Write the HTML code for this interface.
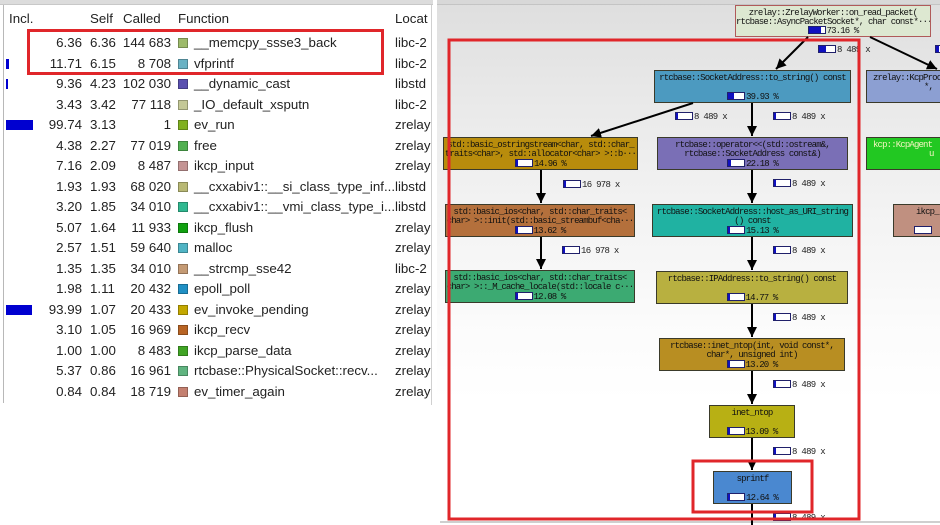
<!DOCTYPE html>
<html><head><meta charset="utf-8">
<style>
*{margin:0;padding:0;box-sizing:border-box}
body{width:940px;height:525px;overflow:hidden;background:#fff;position:relative;font-family:"Liberation Sans",sans-serif}
#left{position:absolute;left:0;top:0;width:433px;height:405px;background:#fff;overflow:hidden}
#left .topbar{position:absolute;left:0;top:0;width:433px;height:5px;background:#dcdcdc;border-bottom:1px solid #c8c8c8}
#left .lb{position:absolute;left:3px;top:5px;width:1px;height:398px;background:#b8b8b8}
#left .rb{position:absolute;left:431px;top:5px;width:1px;height:400px;background:#d0d0d0}
.r{position:absolute;left:0;width:433px;height:20px;line-height:20px;font-size:13.3px;color:#222;white-space:nowrap}
.r span{position:absolute;top:0}
.inc{right:351px;text-align:right}
.slf{left:90px}
.cal{right:262px;text-align:right}
.sq{left:178px;top:5px!important;width:10px;height:10px;border:1px solid rgba(0,0,0,.25)}
.fn{left:194px}
.loc{left:395px}
.ib{left:6px;top:5px!important;height:10px;background:#0000d0}
#right{position:absolute;left:437px;top:0;width:503px;height:523px;background:linear-gradient(to bottom,#dedede 0px,#e8e8e8 90px,#f2f2f2 200px,#fbfbfb 320px,#fff 400px);overflow:hidden}
#right .topbar{position:absolute;left:0;top:0;width:503px;height:5px;background:#d8d8d8;border-bottom:1px solid #c4c4c4}
.n{position:absolute;border:1px solid #3a3a2a;font-family:"Liberation Mono",monospace;font-size:9px;letter-spacing:-0.85px;color:#111;text-align:center;overflow:hidden;white-space:nowrap}
.n .l{position:absolute;left:0;right:0;height:10px;line-height:10px}
.pc{position:absolute;left:0;right:0;top:21px;height:10px;line-height:10px;text-align:center}
.bar{display:inline-block;width:18px;height:8px;border:1px solid #20206a;background:#fff;vertical-align:-1px;position:relative;margin-right:1px}
.bar i{position:absolute;left:0;top:0;bottom:0;background:#1010c0}
.el{position:absolute;font-family:"Liberation Mono",monospace;font-size:9px;letter-spacing:-0.7px;color:#222;white-space:nowrap;line-height:10px;height:10px}
</style></head><body>

<div id="left">
<div class="topbar"></div>
<div class="lb"></div>
<div class="rb"></div>
<div class="r" style="top:9px"><span style="left:9px">Incl.</span><span style="left:90px">Self</span><span style="left:123px">Called</span><span style="left:178px">Function</span><span style="left:395px">Locat</span></div>

<div class="r" style="top:33px"><span class="inc">6.36</span><span class="slf">6.36</span><span class="cal">144 683</span><span class="sq" style="background:#9dba6a"></span><span class="fn">__memcpy_ssse3_back</span><span class="loc">libc-2</span></div>
<div class="r" style="top:53.5px"><span class="ib" style="width:3px"></span><span class="inc">11.71</span><span class="slf">6.15</span><span class="cal">8 708</span><span class="sq" style="background:#6ab2c4"></span><span class="fn">vfprintf</span><span class="loc">libc-2</span></div>
<div class="r" style="top:74px"><span class="ib" style="width:2px"></span><span class="inc">9.36</span><span class="slf">4.23</span><span class="cal">102 030</span><span class="sq" style="background:#5a50b0"></span><span class="fn">__dynamic_cast</span><span class="loc">libstd</span></div>
<div class="r" style="top:94.5px"><span class="inc">3.43</span><span class="slf">3.42</span><span class="cal">77 118</span><span class="sq" style="background:#c4c896"></span><span class="fn">_IO_default_xsputn</span><span class="loc">libc-2</span></div>
<div class="r" style="top:115px"><span class="ib" style="width:27px"></span><span class="inc">99.74</span><span class="slf">3.13</span><span class="cal">1</span><span class="sq" style="background:#80b020"></span><span class="fn">ev_run</span><span class="loc">zrelay</span></div>
<div class="r" style="top:135.5px"><span class="inc">4.38</span><span class="slf">2.27</span><span class="cal">77 019</span><span class="sq" style="background:#50b050"></span><span class="fn">free</span><span class="loc">zrelay</span></div>
<div class="r" style="top:156px"><span class="inc">7.16</span><span class="slf">2.09</span><span class="cal">8 487</span><span class="sq" style="background:#c49494"></span><span class="fn">ikcp_input</span><span class="loc">zrelay</span></div>
<div class="r" style="top:176.5px"><span class="inc">1.93</span><span class="slf">1.93</span><span class="cal">68 020</span><span class="sq" style="background:#b8b874"></span><span class="fn">__cxxabiv1::__si_class_type_inf...</span><span class="loc">libstd</span></div>
<div class="r" style="top:197px"><span class="inc">3.20</span><span class="slf">1.85</span><span class="cal">34 010</span><span class="sq" style="background:#30b890"></span><span class="fn">__cxxabiv1::__vmi_class_type_i...</span><span class="loc">libstd</span></div>
<div class="r" style="top:217.5px"><span class="inc">5.07</span><span class="slf">1.64</span><span class="cal">11 933</span><span class="sq" style="background:#10a010"></span><span class="fn">ikcp_flush</span><span class="loc">zrelay</span></div>
<div class="r" style="top:238px"><span class="inc">2.57</span><span class="slf">1.51</span><span class="cal">59 640</span><span class="sq" style="background:#50b4c4"></span><span class="fn">malloc</span><span class="loc">zrelay</span></div>
<div class="r" style="top:258.5px"><span class="inc">1.35</span><span class="slf">1.35</span><span class="cal">34 010</span><span class="sq" style="background:#c49a74"></span><span class="fn">__strcmp_sse42</span><span class="loc">libc-2</span></div>
<div class="r" style="top:279px"><span class="inc">1.98</span><span class="slf">1.11</span><span class="cal">20 432</span><span class="sq" style="background:#2090c4"></span><span class="fn">epoll_poll</span><span class="loc">zrelay</span></div>
<div class="r" style="top:299.5px"><span class="ib" style="width:26px"></span><span class="inc">93.99</span><span class="slf">1.07</span><span class="cal">20 433</span><span class="sq" style="background:#c4a800"></span><span class="fn">ev_invoke_pending</span><span class="loc">zrelay</span></div>
<div class="r" style="top:320px"><span class="inc">3.10</span><span class="slf">1.05</span><span class="cal">16 969</span><span class="sq" style="background:#b86424"></span><span class="fn">ikcp_recv</span><span class="loc">zrelay</span></div>
<div class="r" style="top:340.5px"><span class="inc">1.00</span><span class="slf">1.00</span><span class="cal">8 483</span><span class="sq" style="background:#40a424"></span><span class="fn">ikcp_parse_data</span><span class="loc">zrelay</span></div>
<div class="r" style="top:361px"><span class="inc">5.37</span><span class="slf">0.86</span><span class="cal">16 961</span><span class="sq" style="background:#60b480"></span><span class="fn">rtcbase::PhysicalSocket::recv...</span><span class="loc">zrelay</span></div>
<div class="r" style="top:381.5px"><span class="inc">0.84</span><span class="slf">0.84</span><span class="cal">18 719</span><span class="sq" style="background:#c48070"></span><span class="fn">ev_timer_again</span><span class="loc">zrelay</span></div>
</div>

<div id="right">
<div class="topbar"></div>
</div>

<div style="position:absolute;left:440px;top:521px;width:500px;height:2px;background:#cfcfcf"></div>

<!-- nodes -->
<div class="n" style="left:735px;top:5px;width:196px;height:32px;background:#dde8d1;border-color:#b05a5a">
 <div class="l" style="top:2px">zrelay::ZrelayWorker::on_read_packet(</div>
 <div class="l" style="top:11px">rtcbase::AsyncPacketSocket*, char const*···</div>
 <div class="pc" style="top:20px"><span class="bar"><i style="width:12px"></i></span>73.16 %</div>
</div>

<div class="n" style="left:654px;top:70px;width:197px;height:33px;background:#4c9ac0">
 <div class="l" style="top:2px">rtcbase::SocketAddress::to_string() const</div>
 <div class="pc"><span class="bar"><i style="width:6px"></i></span>39.93 %</div>
</div>

<div class="n" style="left:866px;top:70px;width:80px;height:33px;background:#8c9fd2;text-align:left">
 <div class="l" style="top:2px;left:6px">zrelay::KcpProc</div>
 <div class="l" style="top:11px;left:57px">*,</div>
</div>

<div class="n" style="left:443px;top:137px;width:195px;height:33px;background:#b88c0c">
 <div class="l" style="top:2px">std::basic_ostringstream&lt;char, std::char_</div>
 <div class="l" style="top:11px">traits&lt;char&gt;, std::allocator&lt;char&gt; &gt;::b···</div>
 <div class="pc"><span class="bar"><i style="width:2px"></i></span>14.96 %</div>
</div>

<div class="n" style="left:657px;top:137px;width:191px;height:33px;background:#7a6fb6">
 <div class="l" style="top:2px">rtcbase::operator&lt;&lt;(std::ostream&amp;,</div>
 <div class="l" style="top:11px">rtcbase::SocketAddress const&amp;)</div>
 <div class="pc"><span class="bar"><i style="width:3px"></i></span>22.18 %</div>
</div>

<div class="n" style="left:866px;top:137px;width:80px;height:33px;background:#22c822;color:#f4f4c0;text-align:left">
 <div class="l" style="top:2px;left:6px">kcp::KcpAgent</div>
 <div class="l" style="top:11px;left:62px">u</div>
</div>

<div class="n" style="left:445px;top:204px;width:190px;height:33px;background:#b4703c">
 <div class="l" style="top:2px">std::basic_ios&lt;char, std::char_traits&lt;</div>
 <div class="l" style="top:11px">char&gt; &gt;::init(std::basic_streambuf&lt;cha···</div>
 <div class="pc"><span class="bar"><i style="width:2px"></i></span>13.62 %</div>
</div>

<div class="n" style="left:652px;top:204px;width:201px;height:33px;background:#20b2a2">
 <div class="l" style="top:2px">rtcbase::SocketAddress::host_as_URI_string</div>
 <div class="l" style="top:11px">() const</div>
 <div class="pc"><span class="bar"><i style="width:2px"></i></span>15.13 %</div>
</div>

<div class="n" style="left:893px;top:204px;width:52px;height:33px;background:#c09080;text-align:left">
 <div class="l" style="top:2px;left:22px">ikcp_</div>
 <div class="pc" style="text-align:left;left:20px"><span class="bar"></span></div>
</div>

<div class="n" style="left:445px;top:270px;width:190px;height:33px;background:#3caa72">
 <div class="l" style="top:2px">std::basic_ios&lt;char, std::char_traits&lt;</div>
 <div class="l" style="top:11px">char&gt; &gt;::_M_cache_locale(std::locale c···</div>
 <div class="pc"><span class="bar"><i style="width:2px"></i></span>12.08 %</div>
</div>

<div class="n" style="left:656px;top:271px;width:192px;height:33px;background:#b8b040">
 <div class="l" style="top:2px">rtcbase::IPAddress::to_string() const</div>
 <div class="pc"><span class="bar"><i style="width:2px"></i></span>14.77 %</div>
</div>

<div class="n" style="left:659px;top:338px;width:186px;height:33px;background:#b88e22">
 <div class="l" style="top:2px">rtcbase::inet_ntop(int, void const*,</div>
 <div class="l" style="top:11px">char*, unsigned int)</div>
 <div class="pc"><span class="bar"><i style="width:2px"></i></span>13.20 %</div>
</div>

<div class="n" style="left:709px;top:405px;width:86px;height:33px;background:#b8b014">
 <div class="l" style="top:2px">inet_ntop</div>
 <div class="pc"><span class="bar"><i style="width:2px"></i></span>13.09 %</div>
</div>

<div class="n" style="left:713px;top:471px;width:79px;height:33px;background:#4a88d0">
 <div class="l" style="top:2px">sprintf</div>
 <div class="pc"><span class="bar"><i style="width:2px"></i></span>12.64 %</div>
</div>

<!-- edge labels -->
<div class="el" style="left:818px;top:45px"><span class="bar"><i style="width:7px"></i></span>8 489 x</div>
<div class="el" style="left:935px;top:45px"><span class="bar"><i style="width:3px"></i></span></div>
<div class="el" style="left:675px;top:112px"><span class="bar"><i style="width:2px"></i></span>8 489 x</div>
<div class="el" style="left:773px;top:112px"><span class="bar"><i style="width:2px"></i></span>8 489 x</div>
<div class="el" style="left:563px;top:180px"><span class="bar"><i style="width:2px"></i></span>16 978 x</div>
<div class="el" style="left:562px;top:246px"><span class="bar"><i style="width:2px"></i></span>16 978 x</div>
<div class="el" style="left:773px;top:179px"><span class="bar"><i style="width:2px"></i></span>8 489 x</div>
<div class="el" style="left:773px;top:246px"><span class="bar"><i style="width:2px"></i></span>8 489 x</div>
<div class="el" style="left:773px;top:313px"><span class="bar"><i style="width:2px"></i></span>8 489 x</div>
<div class="el" style="left:773px;top:380px"><span class="bar"><i style="width:2px"></i></span>8 489 x</div>
<div class="el" style="left:773px;top:447px"><span class="bar"><i style="width:2px"></i></span>8 489 x</div>
<div class="el" style="left:773px;top:513px;height:8px;overflow:hidden"><span class="bar"><i style="width:2px"></i></span>8 489 x</div>

<svg style="position:absolute;left:0;top:0" width="940" height="525" viewBox="0 0 940 525">
<defs>
<marker id="ah" viewBox="0 0 10 10" refX="10" refY="5" markerWidth="5" markerHeight="5" orient="auto" markerUnits="strokeWidth">
<path d="M0,0 L10,5 L0,10 z" fill="#000"/></marker>
</defs>
<g stroke="#000" stroke-width="2" fill="none">
<line x1="808" y1="37" x2="776" y2="69" marker-end="url(#ah)"/>
<line x1="870" y1="37" x2="937" y2="69" marker-end="url(#ah)"/>
<line x1="693" y1="103" x2="591" y2="136" marker-end="url(#ah)"/>
<line x1="752" y1="103" x2="752" y2="136" marker-end="url(#ah)"/>
<line x1="541" y1="170" x2="541" y2="203" marker-end="url(#ah)"/>
<line x1="541" y1="237" x2="541" y2="269" marker-end="url(#ah)"/>
<line x1="752" y1="170" x2="752" y2="203" marker-end="url(#ah)"/>
<line x1="752" y1="237" x2="752" y2="270" marker-end="url(#ah)"/>
<line x1="752" y1="304" x2="752" y2="337" marker-end="url(#ah)"/>
<line x1="752" y1="371" x2="752" y2="404" marker-end="url(#ah)"/>
<line x1="752" y1="438" x2="752" y2="470" marker-end="url(#ah)"/>
<line x1="752" y1="504" x2="752" y2="525"/>
</g>
<g fill="none" stroke="#e0262a" stroke-width="3">
<rect x="28.5" y="30.5" width="354" height="43"/>
<rect x="449" y="40" width="410" height="479"/>
<rect x="693" y="461" width="119" height="51"/>
</g>
</svg>
</body></html>
